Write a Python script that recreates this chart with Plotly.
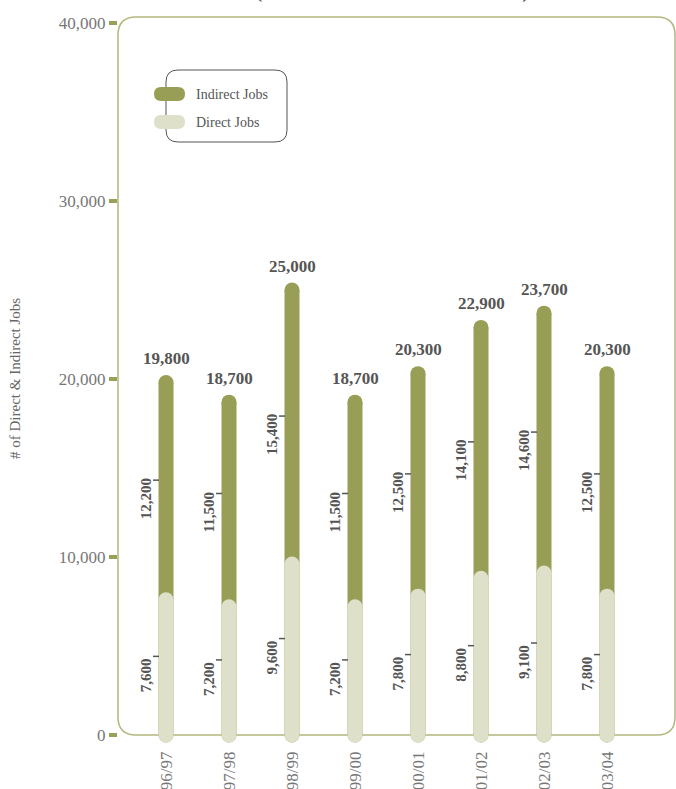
import plotly.graph_objects as go

# Fiscal years and job counts
years = ["1996/97", "1997/98", "1998/99", "1999/00", "2000/01", "2001/02", "2002/03", "2003/04"]
direct_jobs = [7600, 7200, 9600, 7200, 7800, 8800, 9100, 7800]
indirect_jobs = [12200, 11500, 15400, 11500, 12500, 14100, 14600, 12500]
y_tick_values = [0, 10000, 20000, 30000, 40000]

totals = [d + i for d, i in zip(direct_jobs, indirect_jobs)]

OLIVE = "#989e55"
LIGHT = "#dfe0c9"
FRAME = "#b3b77c"
TICK_PILL = "#9ba057"
TEXT_DARK = "#555555"
TEXT_GREY = "#777777"
SERIF = "Liberation Serif, Times New Roman, serif"

W, H = 676, 789
L, R, T, B = 118, 0, 17, 54
PW, PH = W - L - R, H - T - B
BAR_W = 15


def px_x(px):
    return (px - L) / PW


def px_y(py):
    return (H - B - py) / PH


def rounded_rect(x0, y0, x1, y1, r):
    """Rounded rectangle path in paper coords from pixel corners."""
    rx, ry = r / PW, r / PH
    a, b = px_x(x0), px_x(x1)
    top, bot = px_y(y0), px_y(y1)
    return (
        f"M{a + rx},{top} L{b - rx},{top} Q{b},{top} {b},{top - ry} "
        f"L{b},{bot + ry} Q{b},{bot} {b - rx},{bot} "
        f"L{a + rx},{bot} Q{a},{bot} {a},{bot + ry} "
        f"L{a},{top - ry} Q{a},{top} {a + rx},{top} Z"
    )


def stems(values):
    xs, ys = [], []
    for yr, v in zip(years, values):
        xs += [yr, yr, None]
        ys += [0, v, None]
    return xs, ys


fig = go.Figure()

# Rounded column bodies: indirect stacked over direct (total height), direct overlaid
for name, values, color in [("Indirect Jobs", totals, OLIVE), ("Direct Jobs", direct_jobs, LIGHT)]:
    xs, ys = stems(values)
    fig.add_trace(go.Scatter(
        x=xs, y=ys, mode="lines+markers", name=name,
        line=dict(color=color, width=BAR_W),
        marker=dict(color=color, size=BAR_W, line=dict(width=0)),
        connectgaps=False, cliponaxis=False, showlegend=False, hoverinfo="skip",
    ))

shapes = []
annotations = []

# Plot frame
shapes.append(dict(type="path", xref="paper", yref="paper", layer="below",
                   path=rounded_rect(118, 17, 675, 735, 18),
                   line=dict(color=FRAME, width=1.5)))

# Legend box with pill swatches
shapes.append(dict(type="path", xref="paper", yref="paper",
                   path=rounded_rect(166, 70, 287, 142, 12),
                   line=dict(color="#555555", width=1), fillcolor="white"))
for (cy, color, label) in [(94, OLIVE, "Indirect Jobs"), (122, LIGHT, "Direct Jobs")]:
    shapes.append(dict(type="path", xref="paper", yref="paper",
                       path=rounded_rect(154, cy - 7, 185, cy + 7, 7),
                       line=dict(width=0), fillcolor=color))
    annotations.append(dict(xref="paper", yref="paper", x=px_x(194), y=px_y(cy),
                            xanchor="left", yanchor="middle", text=label, showarrow=False,
                            font=dict(family=SERIF, size=14, color=TEXT_DARK)))

# Value labels
for k, yr in enumerate(years):
    annotations.append(dict(x=yr, y=totals[k], yshift=24, text=f"{totals[k]:,}",
                            showarrow=False, xanchor="center", yanchor="middle",
                            font=dict(family=SERIF, size=17, color=TEXT_DARK, weight="bold")))
    segs = [(direct_jobs[k] / 2, direct_jobs[k]),
            (direct_jobs[k] + indirect_jobs[k] / 2, indirect_jobs[k])]
    for mid, val in segs:
        annotations.append(dict(x=yr, y=mid, xshift=-20, yshift=-8, text=f"{val:,}",
                                textangle=-90, showarrow=False,
                                xanchor="center", yanchor="middle",
                                font=dict(family=SERIF, size=15, color=TEXT_DARK, weight="bold")))
        shapes.append(dict(type="line", xref="x", yref="y",
                           xsizemode="pixel", xanchor=k, x0=-13, x1=-7,
                           ysizemode="pixel", yanchor=mid, y0=11, y1=11,
                           line=dict(color=TEXT_DARK, width=1.5)))

# Axis title
annotations.append(dict(xref="paper", yref="paper", x=px_x(15), y=px_y(379),
                        text="# of Direct &amp; Indirect Jobs", textangle=-90, showarrow=False,
                        xanchor="center", yanchor="middle",
                        font=dict(family=SERIF, size=15, color="#666666")))

# Chart heading (sits at the very top edge)
annotations.append(dict(xref="paper", yref="paper", x=px_x(392), y=px_y(5),
                        text="(Number of Direct &amp; Indirect Jobs)", showarrow=False,
                        xanchor="center", yanchor="bottom",
                        font=dict(family=SERIF, size=18, color=TEXT_DARK, weight="bold")))

px_per_cat = 63
x_start = -(166 - L) / px_per_cat
x_end = x_start + PW / px_per_cat

fig.update_layout(
    width=W, height=H,
    margin=dict(l=L, r=R, t=T, b=B),
    paper_bgcolor="white", plot_bgcolor="rgba(0,0,0,0)",
    shapes=shapes, annotations=annotations,
    showlegend=False,
    xaxis=dict(type="category", categoryorder="array", categoryarray=years,
               range=[x_start, x_end], showgrid=False, zeroline=False, showline=False,
               ticks="", tickangle=-90, automargin=False, ticklabelstandoff=12,
               tickfont=dict(family=SERIF, size=17, color=TEXT_GREY)),
    yaxis=dict(range=[0, PH / 0.0178], tickvals=y_tick_values, tickformat=",",
               showgrid=False, zeroline=False, showline=False,
               ticks="outside", ticklen=8, tickwidth=4, tickcolor=TICK_PILL,
               automargin=False,
               tickfont=dict(family=SERIF, size=17, color=TEXT_GREY)),
)

fig.write_html("out.html")
